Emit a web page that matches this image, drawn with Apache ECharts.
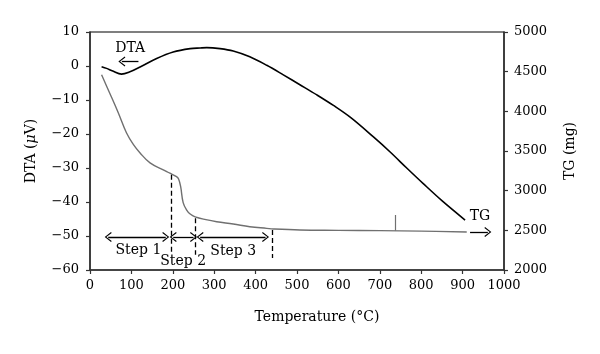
<!DOCTYPE html>
<html>
<head>
<meta charset="utf-8">
<script src="https://cdn.jsdelivr.net/npm/echarts@6/dist/echarts.min.js"></script>
<style>html,body{margin:0;padding:0;background:#fff}#c{width:600px;height:354px}</style>
</head>
<body>
<div id="c"></div>
<script>
// DTA curve (left axis, µV)
const dtaTemp = [28, 40, 55, 76, 95, 121, 161, 201, 242, 266, 282, 314, 346, 386, 427, 467, 507, 548, 588, 630, 684, 725, 765, 805, 850, 906];
const dtaValue = [-0.2, -0.7, -1.5, -2.4, -1.8, -0.3, 2.2, 4.1, 5.1, 5.3, 5.4, 5.1, 4.4, 2.7, 0.2, -2.6, -5.5, -8.5, -11.6, -15.2, -20.8, -25.3, -30.0, -34.6, -39.6, -45.3];
// TG curve (right axis, mg)
const tgTemp = [28, 48, 68, 88, 105, 121, 145, 177, 193, 209, 214, 219, 225, 234, 242, 254, 280, 306, 346, 386, 427, 443, 507, 600, 700, 800, 910];
const tgValue = [4460, 4225, 3985, 3730, 3580, 3475, 3350, 3262, 3220, 3176, 3148, 3050, 2850, 2752, 2705, 2670, 2635, 2609, 2580, 2546, 2525, 2517, 2504, 2500, 2496, 2490, 2479];
// small spike on TG curve
const spikeTemp = 737;
const spikeFrom = 2496, spikeTo = 2693;
// step boundaries (dashed lines): temperature, top and bottom (DTA axis units)
const dashTemp = [196, 255, 440];
const dashTop = [-32.0, -44.8, -48.2];
const dashBottom = [-55.5, -55.5, -56.5];
// step arrows (DTA axis units)
const stepNames = ['Step 1', 'Step 2', 'Step 3'];
const stepFrom = [44, 201, 266];
const stepTo = [183, 250, 424];
const stepArrowLevel = -50.3;
const stepLabelTemp = [117, 225, 346];
const stepLabelValue = [-54.1, -57.6, -54.6];
// curve labels
const dtaLabel = {name: 'DTA', temp: 97, value: 5.2, arrowFrom: 77, arrowTo: 117, arrowValue: 1.3};
const tgLabel = {name: 'TG', temp: 942, value: -44.3, arrowFrom: 918, arrowTo: 961, arrowValue: 2479};

const FONT = 'DejaVu Serif';
const chev = 'path://M0,9 L5,0 L10,9 L9,10 L5,2.4 L1,10 Z';

const chart = echarts.init(document.getElementById('c'), null, {renderer: 'canvas'});

const textPoint = (name, x, y) => ({
  name: name, coord: [x, y], symbol: 'circle', symbolSize: 1,
  itemStyle: {color: 'rgba(0,0,0,0)'},
  label: {show: true, position: 'inside', formatter: name, color: '#000', fontFamily: FONT, fontSize: 14}
});

const dtaMarkLines = [];
dashTemp.forEach((t, i) => {
  dtaMarkLines.push([
    {coord: [t, dashTop[i]], symbol: 'none', lineStyle: {type: [5, 3], color: '#000', width: 1.3}},
    {coord: [t, dashBottom[i]], symbol: 'none'}
  ]);
});
stepFrom.forEach((t, i) => {
  dtaMarkLines.push([
    {coord: [t, stepArrowLevel], symbol: chev, lineStyle: {type: 'solid', color: '#000', width: 1.3}},
    {coord: [stepTo[i], stepArrowLevel], symbol: chev}
  ]);
});
dtaMarkLines.push([
  {coord: [dtaLabel.arrowFrom, dtaLabel.arrowValue], symbol: chev, lineStyle: {type: 'solid', color: '#000', width: 1.3}},
  {coord: [dtaLabel.arrowTo, dtaLabel.arrowValue], symbol: 'none'}
]);

const textPoints = stepNames.map((n, i) => textPoint(n, stepLabelTemp[i], stepLabelValue[i]));
textPoints.push(textPoint(dtaLabel.name, dtaLabel.temp, dtaLabel.value));
textPoints.push(textPoint(tgLabel.name, tgLabel.temp, tgLabel.value));

const axisLine = {show: true, onZero: false, lineStyle: {color: '#333', width: 1.5}};
const axisTick = {show: true, length: 4, lineStyle: {color: '#333', width: 1.2}};
const plain = v => String(v).replace('-', '\u2212');

chart.setOption({
  animation: false,
  backgroundColor: '#fff',
  grid: {left: 90, right: 96, top: 32, bottom: 84, show: true, borderColor: '#000', borderWidth: 1.2, backgroundColor: 'transparent'},
  xAxis: {
    type: 'value', min: 0, max: 1000, interval: 100,
    axisLine: axisLine, axisTick: axisTick, splitLine: {show: false},
    name: 'Temperature (°C)', nameLocation: 'middle', nameGap: 40,
    nameTextStyle: {color: '#000', fontFamily: FONT, fontSize: 14, padding: [0, 0, 0, 40]},
    axisLabel: {color: '#000', fontFamily: FONT, fontSize: 13, margin: 9, formatter: plain}
  },
  yAxis: [
    {
      type: 'value', min: -60, max: 10, interval: 10, position: 'left',
      axisLine: axisLine, axisTick: axisTick, splitLine: {show: false},
      name: 'DTA ({i|μ}V)', nameLocation: 'middle', nameGap: 52, nameRotate: 90,
      nameTextStyle: {color: '#000', fontFamily: FONT, fontSize: 14,
        rich: {i: {fontStyle: 'italic', fontFamily: FONT, fontSize: 14, color: '#000'}}},
      axisLabel: {color: '#000', fontFamily: FONT, fontSize: 13, margin: 11, formatter: plain}
    },
    {
      type: 'value', min: 2000, max: 5000, interval: 500, position: 'right',
      axisLine: axisLine, axisTick: axisTick, splitLine: {show: false},
      name: 'TG (mg)', nameLocation: 'middle', nameGap: 59, nameRotate: 90,
      nameTextStyle: {color: '#000', fontFamily: FONT, fontSize: 14},
      axisLabel: {color: '#000', fontFamily: FONT, fontSize: 13, margin: 10, formatter: plain}
    }
  ],
  series: [
    {
      name: 'DTA', type: 'line', yAxisIndex: 0, showSymbol: false, smooth: 0.35,
      data: dtaTemp.map((t, i) => [t, dtaValue[i]]),
      lineStyle: {color: '#000', width: 1.6},
      markLine: {silent: true, animation: false, symbolSize: [10, 7], label: {show: false},
        emphasis: {disabled: true}, data: dtaMarkLines},
      markPoint: {silent: true, animation: false, data: textPoints}
    },
    {
      name: 'TG', type: 'line', yAxisIndex: 1, showSymbol: false, smooth: 0.4,
      data: tgTemp.map((t, i) => [t, tgValue[i]]),
      lineStyle: {color: '#707070', width: 1.4},
      markLine: {silent: true, animation: false, symbolSize: [10, 7], label: {show: false},
        emphasis: {disabled: true},
        data: [
          [{coord: [spikeTemp, spikeFrom], symbol: 'none', lineStyle: {type: 'solid', color: '#707070', width: 1.2}},
           {coord: [spikeTemp, spikeTo], symbol: 'none'}],
          [{coord: [tgLabel.arrowFrom, tgLabel.arrowValue], symbol: 'none', lineStyle: {type: 'solid', color: '#000', width: 1.3}},
           {coord: [tgLabel.arrowTo, tgLabel.arrowValue], symbol: chev}]
        ]}
    }
  ]
});
</script>
</body>
</html>
